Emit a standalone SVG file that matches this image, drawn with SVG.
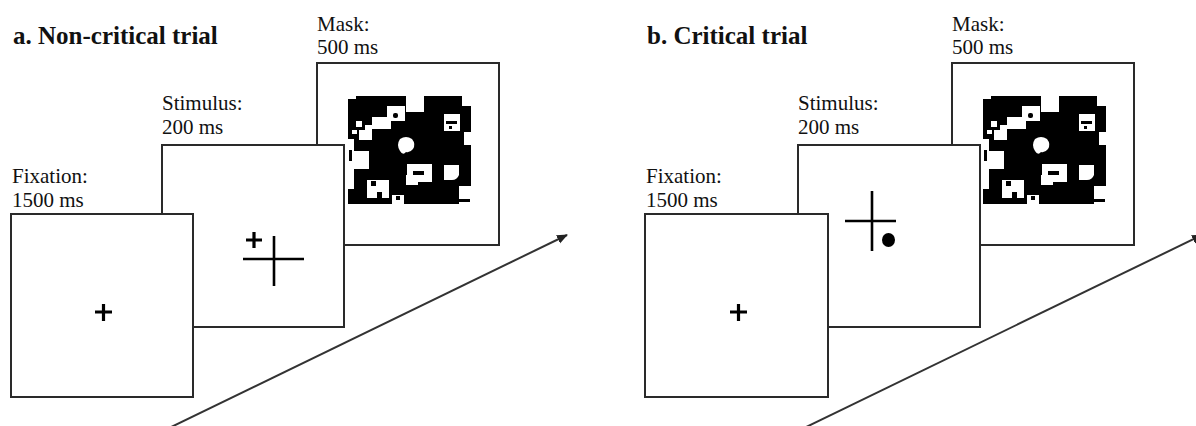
<svg xmlns="http://www.w3.org/2000/svg" width="1196" height="426" viewBox="0 0 1196 426">
  <style>
    .title { font-family: "Liberation Serif", "Times New Roman", serif; font-size: 25px; font-weight: bold; fill: #111; }
    .label { font-family: "Liberation Serif", "Times New Roman", serif; font-size: 21px; fill: #111; }
    .screen { fill: #ffffff; stroke: #2a2a2a; stroke-width: 2; }
    .thick { stroke: #000; stroke-width: 3.2; fill: none; }
    .thin { stroke: #000; stroke-width: 2.6; fill: none; }
    .conn { stroke: #333; stroke-width: 2; fill: none; }
  </style>
  <defs>
    <marker id="arrow" markerWidth="12" markerHeight="10" refX="10" refY="5" orient="auto" markerUnits="userSpaceOnUse">
      <path d="M0,0.5 L11,5 L0,9.5 Z" fill="#222"/>
    </marker>
    <g id="maskpattern">
      <rect x="348" y="96" width="123" height="108" fill="#000"/>
      <g fill="#fff">
        <rect x="406" y="95" width="18" height="17"/>
        <rect x="462" y="95" width="10" height="11"/>
        <rect x="347" y="95" width="9" height="4"/>
        <polygon points="387,106 405,106 405,121 391,121 391,129 372,129 372,117 387,117"/>
        <rect x="359" y="125" width="13" height="15"/>
        <rect x="347" y="139" width="7" height="50"/>
        <rect x="354" y="151" width="15" height="18"/>
        <path d="M400,139 q6,-4 12,0 q4,5 1,10 q-3,4 -7,3 q-3,4 -6,-1 q-4,-6 0,-12 Z"/>
        <rect x="444" y="114" width="16" height="17"/>
        <rect x="464" y="132" width="8" height="13"/>
        <polygon points="407,164 432,164 432,182 418,182 418,185 406,185 406,175 407,175"/>
        <path d="M444,165 h15 v10 q-2,5 -7,5 h-8 Z"/>
        <rect x="367" y="180" width="22" height="18"/>
        <rect x="392" y="195" width="12" height="10"/>
        <rect x="459" y="186" width="13" height="19"/>
        <rect x="352" y="130" width="5" height="4"/>
      </g>
      <g fill="#000">
        <rect x="354" y="119" width="11" height="11"/>
        <rect x="356" y="121" width="6" height="6" fill="#fff"/>
        <rect x="393" y="113" width="5" height="5" rx="2"/>
        <rect x="349" y="150" width="3" height="11"/>
        <rect x="446" y="121" width="11" height="3"/>
        <rect x="449" y="126" width="3" height="3"/>
        <rect x="413" y="171" width="11" height="4"/>
        <rect x="371" y="181" width="5" height="5"/>
        <rect x="377" y="192" width="5" height="7"/>
        <rect x="396" y="196" width="4" height="4"/>
        <rect x="459" y="199" width="11" height="3"/>
      </g>
    </g>
  </defs>

  <!-- Panel titles -->
  <text id="title-a" class="title" x="13" y="44">a. Non-critical trial</text>
  <text id="title-b" class="title" x="647" y="44">b. Critical trial</text>

  <!-- Connectors (time arrows) -->
  <g id="connectors">
    <line class="conn" x1="165" y1="430" x2="567" y2="235" marker-end="url(#arrow)"/>
    <line class="conn" x1="800" y1="430" x2="1202" y2="235" marker-end="url(#arrow)"/>
  </g>

  <!-- Panel a -->
  <g id="a-mask">
    <text class="label" x="317" y="31">Mask:</text>
    <text class="label" x="317" y="54">500 ms</text>
    <rect class="screen" x="317" y="63" width="182" height="182"/>
    <use href="#maskpattern"/>
  </g>
  <g id="a-stimulus">
    <text class="label" x="162" y="110">Stimulus:</text>
    <text class="label" x="162" y="134">200 ms</text>
    <rect class="screen" x="162" y="145" width="182" height="182"/>
    <path class="thick" d="M246,240 H262 M254,232 V248"/>
    <path class="thin" d="M243,259 H304 M274,236 V286"/>
  </g>
  <g id="a-fixation">
    <text class="label" x="12" y="183">Fixation:</text>
    <text class="label" x="12" y="207">1500 ms</text>
    <rect class="screen" x="11" y="214" width="182" height="183"/>
    <path class="thick" d="M95,312 H112 M103.5,304 V321"/>
  </g>

  <!-- Panel b -->
  <g id="b-mask">
    <text class="label" x="952" y="31">Mask:</text>
    <text class="label" x="952" y="54">500 ms</text>
    <rect class="screen" x="952" y="63" width="182" height="182"/>
    <use href="#maskpattern" transform="translate(635,0)"/>
  </g>
  <g id="b-stimulus">
    <text class="label" x="798" y="110">Stimulus:</text>
    <text class="label" x="798" y="134">200 ms</text>
    <rect class="screen" x="798" y="145" width="182" height="182"/>
    <path class="thin" d="M845,221 H896 M872,191 V251"/>
    <ellipse cx="888.5" cy="240" rx="6.5" ry="7" fill="#000"/>
  </g>
  <g id="b-fixation">
    <text class="label" x="646" y="183">Fixation:</text>
    <text class="label" x="646" y="207">1500 ms</text>
    <rect class="screen" x="645" y="214" width="183" height="183"/>
    <path class="thick" d="M730,312 H747 M738.5,304 V321"/>
  </g>
</svg>
